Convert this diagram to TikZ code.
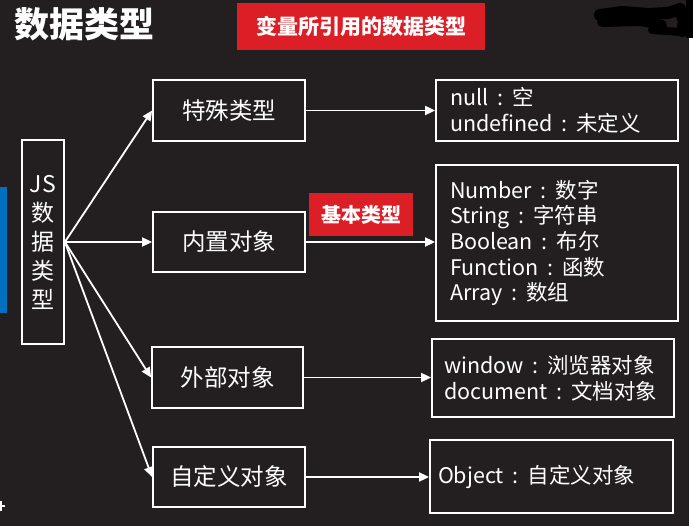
\documentclass[tikz,border=0pt]{standalone}
\usepackage{fontspec}
\setmainfont{Noto Sans CJK SC}
\usetikzlibrary{arrows.meta}
\definecolor{bgdark}{HTML}{231F20}
\definecolor{tagred}{HTML}{DC1E26}
\definecolor{barblue}{HTML}{0070C0}
% full-width colon with the glyph centred in its cell
\newcommand\fcolon{\makebox[1.1em][c]{:}}
\tikzset{
  box/.style={draw=white, line width=1.8pt, text=white, inner sep=0pt, align=center},
  midbox/.style={box, font=\fontsize{23.5}{28}\selectfont},
  listbox/.style={box, align=left, font=\fontsize{21.5}{25.6}\selectfont, anchor=center},
  tag/.style={fill=tagred, text=white, inner sep=0pt, font=\bfseries},
  link/.style={draw=white, line width=1.8pt, -{Triangle[length=10pt,width=9pt]}},
}
\begin{document}
\begin{tikzpicture}[x=1pt, y=-1pt]
\useasboundingbox (0,0) rectangle (693,526);
% page background with a thin light strip on the right
\fill[white] (0,0) rectangle (693,526);
\fill[bgdark] (0,0) rectangle (689,526);

% heading and caption tag
\node[text=white, font=\fontsize{35}{40}\selectfont\bfseries] (title) at (84,24) {数据类型};
\node[tag, minimum width=248pt, minimum height=47pt, font=\fontsize{21}{25}\selectfont\bfseries] (caption) at (361,26.5) {变量所引用的数据类型};

% inked-out mark in the top right corner
\draw[black, line width=12pt, line cap=round, line join=round]
  (600,15) -- (622,12) -- (648,14) -- (668,13) -- (680,9) -- (684,22) -- (682,31);
\draw[black, line width=10pt, line cap=round] (602,22) -- (640,21) -- (662,25);
\draw[black, line width=8pt, line cap=round] (652,30) -- (680,32);
\fill[black] (686,0) rectangle (693,38);

% blue marker at the left edge
\fill[barblue] (0,187) rectangle (7,313);
% small cross in the bottom left corner
\draw[white, line width=2.2pt] (-3,506) -- (5,506) (1,501) -- (1,511);

% root box
\node[box, minimum width=42pt, minimum height=204pt,
      font=\fontsize{23}{29}\selectfont] (js) at (43,242) {JS\\数\\据\\类\\型};

% category boxes
\node[midbox, minimum width=152pt, minimum height=61pt] (special) at (229,110.5) {特殊类型};
\node[midbox, minimum width=152pt, minimum height=60pt] (builtin) at (229,242) {内置对象};
\node[midbox, minimum width=151pt, minimum height=61pt] (external) at (227.5,377.5) {外部对象};
\node[midbox, minimum width=152pt, minimum height=60pt] (custom) at (229,477) {自定义对象};

% tag on the built-in branch
\node[tag, minimum width=104pt, minimum height=43pt, font=\fontsize{20}{24}\selectfont\bfseries] (basic) at (361,214.5) {基本类型};

% detail boxes
\node[listbox, minimum width=242pt, minimum height=61pt, text width=214pt, inner xsep=14pt] (rspecial) at (557,110.5)
  {null\fcolon 空\\undefined\fcolon 未定义};
\node[listbox, minimum width=242pt, minimum height=156pt, text width=214pt, inner xsep=14pt] (rbuiltin) at (557,243)
  {Number\fcolon 数字\\String\fcolon 字符串\\Boolean\fcolon 布尔\\Function\fcolon 函数\\Array\fcolon 数组};
\node[listbox, minimum width=242pt, minimum height=78pt, text width=218pt, inner xsep=12pt] (rexternal) at (553,378)
  {window\fcolon 浏览器对象\\document\fcolon 文档对象};
\node[listbox, minimum width=243pt, minimum height=73pt, text width=227pt, inner xsep=8pt] (rcustom) at (551.5,476.5)
  {Object\fcolon 自定义对象};

% fan-out from the root
\draw[link] (js.east) -- (special.west);
\draw[link] (js.east) -- (builtin.west);
\draw[link] (js.east) -- (external.west);
\draw[link] (js.east) -- (custom.west);

% category to detail
\draw[link] (special.east) -- (special.east -| rspecial.west);
\draw[link] (builtin.east) -- (builtin.east -| rbuiltin.west);
\draw[link] (external.east) -- (external.east -| rexternal.west);
\draw[link] (custom.east) -- (custom.east -| rcustom.west);
\end{tikzpicture}
\end{document}
